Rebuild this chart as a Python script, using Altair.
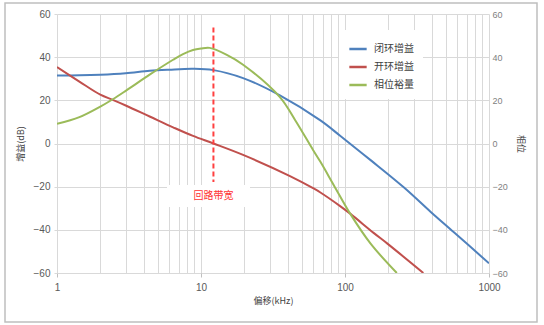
import altair as alt
import pandas as pd

# ---- data ----
closed_freq = [1, 1.43, 2, 3, 4.4, 6, 8.8, 12.2, 19.6, 35.3, 67.5, 92.5, 150.6, 257, 394, 568, 1000]
closed_gain = [31.5, 31.6, 31.9, 32.6, 33.7, 34.2, 34.6, 34.0, 30.3, 22.3, 10.7, 3.6, -7.7, -20.4, -31.7, -41.0, -55.5]

open_freq = [1, 1.43, 2, 2.44, 3, 4.4, 6.4, 8.8, 12.2, 19.6, 41.5, 60, 67.5, 92.5, 108.6, 158, 197, 350]
open_gain = [35.4, 28.7, 22.6, 20.2, 17.6, 12.5, 7.5, 3.5, 0.0, -5.3, -15.1, -20.7, -22.7, -29.0, -32.5, -41.4, -46.4, -60.0]

phase_freq = [1, 1.43, 2, 2.44, 3, 4.4, 6.4, 7.5, 8.8, 10, 11.5, 15, 19.6, 35.3, 45, 60, 67.5, 83.6, 108.6, 150.6, 229]
phase_val = [9.1, 12.2, 17.1, 20.5, 24.4, 31.9, 38.8, 41.4, 43.3, 44.0, 44.3, 41.2, 36.5, 21.5, 10.9, -3.0, -8.5, -19.3, -32.5, -46.4, -60.0]

series_names = ["闭环增益", "开环增益", "相位裕量"]
series_colors = ["#4F81BD", "#C0504D", "#9BBB59"]

x_label_values = [1, 10, 100, 1000]
x_grid_values = [1, 2, 3, 4, 5, 6, 7, 8, 9,
                 10, 20, 30, 40, 50, 60, 70, 80, 90,
                 100, 200, 300, 400, 500, 600, 700, 800, 900, 1000]
y_tick_values = [-60, -40, -20, 0, 20, 40, 60]

bandwidth_freq = [12.2]
bandwidth_top = [53.7]
bandwidth_bottom = [-17.8]
bandwidth_label = ["回路带宽"]

# ---- tables ----
gain_df = pd.DataFrame({
    "freq": closed_freq + open_freq,
    "value": closed_gain + open_gain,
    "series": [series_names[0]] * len(closed_freq) + [series_names[1]] * len(open_freq),
})
phase_df = pd.DataFrame({
    "freq": phase_freq,
    "value": phase_val,
    "series": [series_names[2]] * len(phase_freq),
})
bw_df = pd.DataFrame({
    "freq": bandwidth_freq,
    "top": bandwidth_top,
    "bottom": bandwidth_bottom,
    "label": bandwidth_label,
})

FONT = "Liberation Sans"
CJK = "Noto Sans CJK SC"
GRID = "#d9d9d9"
INTERP = "catmull-rom"

is_major = "indexof([1,10,100,1000], datum.value) >= 0"

x_enc = alt.X(
    "freq:Q",
    scale=alt.Scale(type="log", domain=[1, 1000], nice=False),
    axis=alt.Axis(
        values=x_grid_values,
        labelExpr=is_major + " ? toString(datum.value) : ''",
        labelOverlap=False,
        labelFlush=False,
        title="偏移(kHz)",
        titleFont=CJK,
        titleFontSize=9,
        titleFontWeight="normal",
        titleColor="#404040",
        titlePadding=4,
        labelFont=FONT,
        labelFontSize=10,
        labelColor="#595959",
        labelPadding=5,
        tickSize=4,
        tickColor="#bfbfbf",
        tickOpacity={"condition": {"test": is_major, "value": 1}, "value": 0},
        grid=True,
        gridColor=GRID,
        domain=False,
    ),
)

y_scale = alt.Scale(domain=[-60, 60], nice=False, zero=False)

color_enc = alt.Color(
    "series:N",
    scale=alt.Scale(domain=series_names, range=series_colors),
    legend=alt.Legend(
        orient="none",
        legendX=282,
        legendY=16,
        title=None,
        symbolType="stroke",
        symbolStrokeWidth=2.5,
        symbolSize=300,
        fillColor="white",
        padding=9,
        rowPadding=3,
        labelFont=CJK,
        labelFontSize=10,
        labelColor="#404040",
        labelOffset=6,
    ),
)

gain_lines = alt.Chart(gain_df).mark_line(strokeWidth=2, interpolate=INTERP, clip=True).encode(
    x=x_enc,
    y=alt.Y(
        "value:Q",
        scale=y_scale,
        axis=alt.Axis(
            values=y_tick_values,
            title="增益(dB)",
            titleFont=CJK,
            titleFontSize=9,
            titleFontWeight="normal",
            titleColor="#404040",
            titlePadding=8,
            labelFont=FONT,
            labelFontSize=10,
            labelColor="#595959",
            labelPadding=4,
            tickSize=3,
            tickColor=GRID,
            grid=True,
            gridColor=GRID,
            domain=False,
        ),
    ),
    color=color_enc,
    detail="series:N",
)

bw_rule = alt.Chart(bw_df).mark_rule(color="#ff4040", strokeWidth=2, strokeDash=[5, 3]).encode(
    x=alt.X("freq:Q"),
    y=alt.Y("top:Q", scale=y_scale),
    y2="bottom:Q",
)

bw_box = alt.Chart(bw_df).mark_rect(fill="white").encode(
    x=alt.value(167 - 57),
    x2=alt.value(250 - 57),
    y=alt.value(185 - 14),
    y2=alt.value(207 - 14),
)

bw_text = alt.Chart(bw_df).mark_text(
    color="#ff3333", font=CJK, fontSize=10, align="center", baseline="middle"
).encode(
    x=alt.X("freq:Q"),
    y=alt.value(196 - 14),
    text="label:N",
)

border = alt.Chart(pd.DataFrame({"a": [0]})).mark_rect(
    fillOpacity=0, stroke="#bfbfbf", strokeWidth=1.5
).encode(
    x=alt.value(5 - 57),
    x2=alt.value(537 - 57),
    y=alt.value(3 - 14),
    y2=alt.value(322 - 14),
)

left = alt.layer(gain_lines, bw_box, bw_rule, bw_text, border)

phase_line = alt.Chart(phase_df).mark_line(strokeWidth=2, interpolate=INTERP, clip=True).encode(
    x=alt.X("freq:Q"),
    y=alt.Y(
        "value:Q",
        scale=y_scale,
        axis=alt.Axis(
            orient="right",
            values=y_tick_values,
            title="相位",
            titleFont=CJK,
            titleFontSize=9,
            titleFontWeight="normal",
            titleColor="#404040",
            titlePadding=8,
            labelFont=FONT,
            labelFontSize=9,
            labelColor="#7f7f7f",
            labelPadding=3,
            ticks=False,
            grid=False,
            domain=False,
        ),
    ),
    color=color_enc,
)

chart = alt.layer(left, phase_line).resolve_scale(y="independent").properties(
    width=432,
    height=259,
    padding={"left": 57, "top": 14, "right": 55, "bottom": 52},
    autosize=alt.AutoSizeParams(type="none"),
    background="white",
).configure_view(stroke=None)

chart.save("out.html", embed_options={"renderer": "svg", "actions": False})
